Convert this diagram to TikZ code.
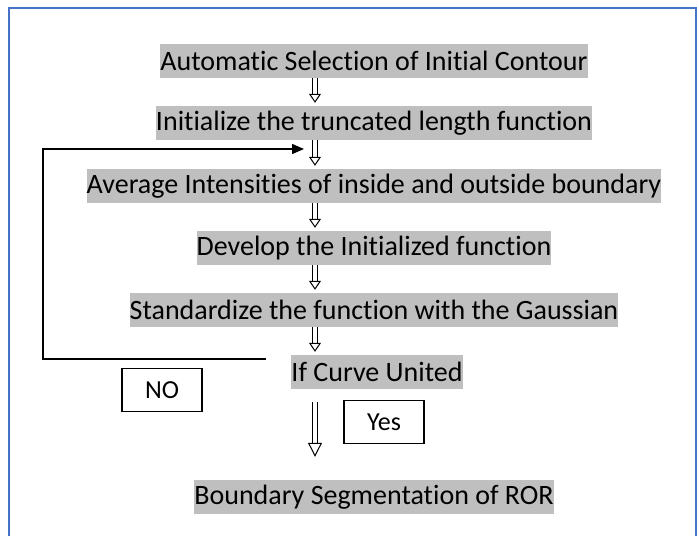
\documentclass[tikz,border=0pt]{standalone}
\usepackage{fontspec}
\setmainfont{Carlito}[Ligatures=NoCommon]
\usetikzlibrary{arrows.meta}
\definecolor{hlgray}{RGB}{191,191,191}
\definecolor{frameblue}{RGB}{68,114,196}
\begin{document}
\begin{tikzpicture}[x=1pt,y=-1pt,
  stepbox/.style={fill=hlgray,inner xsep=0pt,inner ysep=0pt,minimum height=34pt,
    font=\fontsize{28}{34}\selectfont},
  answerbox/.style={draw,line width=1.3pt,minimum width=80pt,minimum height=43pt,
    text depth=0pt,font=\fontsize{26}{30}\selectfont},
  hollowarrow/.style={double,double distance=3.5pt,line width=1pt,
    -{Triangle[open,length=9pt,width=12pt,fill=white]}},
  bigarrow/.style={hollowarrow,-{Triangle[open,length=14pt,width=14pt,fill=white]}},
  loopline/.style={line width=1.5pt,-{Triangle[length=12pt,width=10pt]}}]
  % Page and blue frame (open at the bottom)
  \useasboundingbox (0,0) rectangle (699,536);
  \draw[frameblue,line width=1.5pt] (9,536) -- (9,8) -- (696,8) -- (696,536);

  % Steps of the method
  \node[stepbox] (select) at (374,61) {Automatic Selection of Initial Contour};
  \node[stepbox] (init) at (374,123) {Initialize the truncated length function};
  \node[stepbox] (average) at (374,186) {Average Intensities of inside and outside boundary};
  \node[stepbox] (develop) at (374,248) {Develop the Initialized function};
  \node[stepbox] (gauss) at (374,310) {Standardize the function with the Gaussian};
  \node[stepbox] (united) at (377,372) {If Curve United};
  \node[stepbox] (segment) at (374,497) {Boundary Segmentation of ROR};

  % Answers
  \node[answerbox] (no) at (162,390) {NO};
  \node[answerbox] (yes) at (384,422) {Yes};

  % Hollow arrows, all on one vertical line
  \coordinate (ax) at (315,0);
  \draw[hollowarrow] (select.south -| ax) -- ([yshift=3pt]init.north -| ax);
  \draw[hollowarrow] (init.south -| ax) -- ([yshift=3pt]average.north -| ax);
  \draw[hollowarrow] (average.south -| ax) -- ([yshift=3pt]develop.north -| ax);
  \draw[hollowarrow] (develop.south -| ax) -- ([yshift=3pt]gauss.north -| ax);
  \draw[hollowarrow] (gauss.south -| ax) -- ([yshift=3pt]united.north -| ax);
  \draw[bigarrow] ([yshift=-13pt]united.south -| ax) -- ([yshift=23pt]segment.north -| ax);

  % Loop back when the curve is not united
  \coordinate (noend) at (266,359);
  \coordinate (loopin) at (304,149);
  \draw[loopline] (noend) -- (43,359) |- (loopin);
\end{tikzpicture}
\end{document}
